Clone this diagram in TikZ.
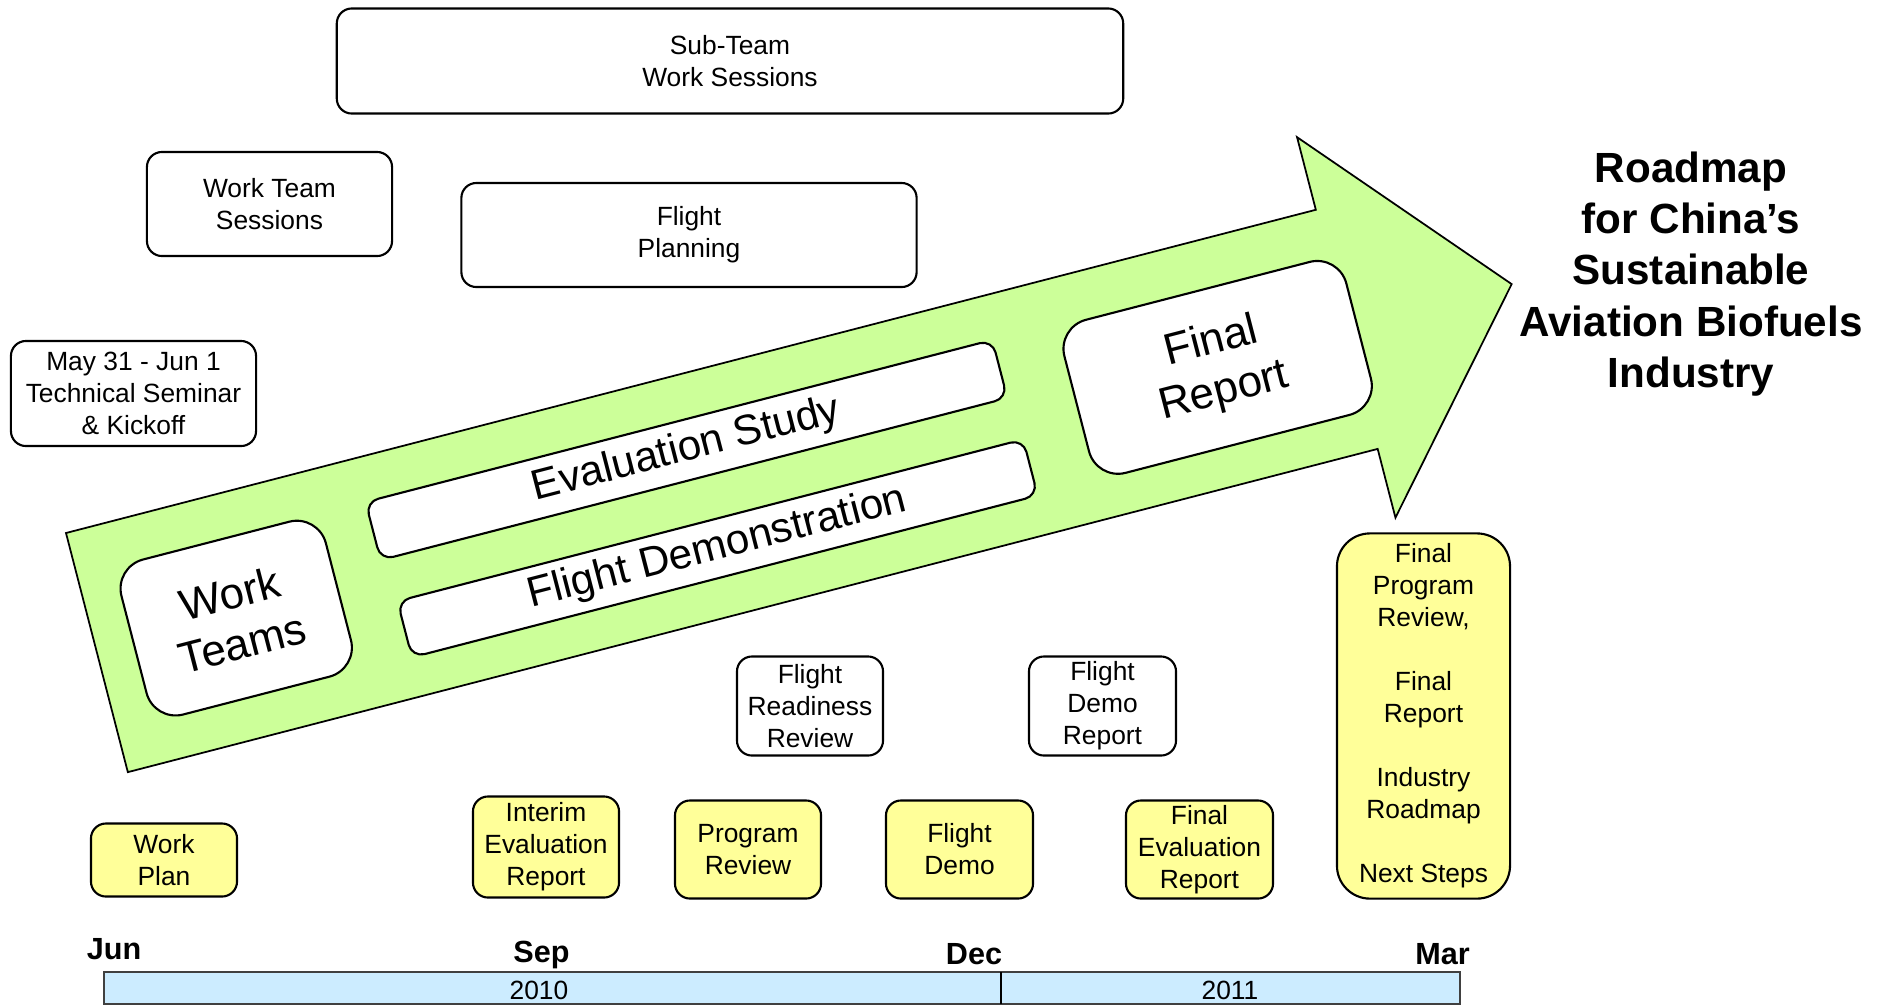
\documentclass[tikz,border=0pt]{standalone}
\usepackage{fontspec}
\setmainfont{Liberation Sans}
\definecolor{leafgreen}{HTML}{CCFF99}
\definecolor{paleyellow}{HTML}{FFFF99}
\definecolor{skyblue}{HTML}{CCECFF}
\tikzset{
  plainbox/.style={draw, fill=white, rounded corners=0.15cm, line width=0.6pt, align=center, inner sep=0pt, font=\fontsize{7.5}{9.1}\selectfont},
  yellowbox/.style={plainbox, fill=paleyellow},
  arrowbox/.style={draw, fill=white, line width=0.6pt, align=center, inner sep=0pt, transform shape, font=\fontsize{12.5}{14.5}\selectfont},
  monthlabel/.style={anchor=base, font=\bfseries\fontsize{8.7}{10}\selectfont},
  yearlabel/.style={font=\fontsize{7.5}{9}\selectfont}
}
\begin{document}
\begin{tikzpicture}[x=0.01cm,y=-0.01cm]
\useasboundingbox (0,0) rectangle (1887,1005);
% sessions above the arrow
\node[plainbox, minimum width=7.86cm, minimum height=1.05cm] (subteam) at (730,61) {Sub-Team\\Work Sessions};
\node[plainbox, minimum width=2.45cm, minimum height=1.04cm] (teamsessions) at (269.5,204) {Work Team\\Sessions};
\node[plainbox, minimum width=4.55cm, minimum height=1.04cm] (flightplan) at (689,235) {Flight\\Planning};
\node[plainbox, minimum width=2.45cm, minimum height=1.05cm] (kickoff) at (133.5,393.5) {May 31 - Jun 1\\Technical Seminar\\\& Kickoff};
% the big arrow
\begin{scope}[shift={(66,533)},rotate=14.5]
\draw[fill=leafgreen, line width=0.5pt, line join=miter] (0,0) -- (1291,0) -- (1291,-75) -- (1462,121) -- (1291,318) -- (1291,247) -- (0,247) -- cycle;
\node[arrowbox, rounded corners=0.3cm, minimum width=2.11cm, minimum height=1.6cm] (workteams) at (143.5,125) {Work\\Teams};
\node[arrowbox, rounded corners=0.13cm, minimum width=6.47cm, minimum height=0.6cm, font=\fontsize{12}{14}\selectfont] (evalstudy) at (621.5,75) {Evaluation Study};
\node[arrowbox, rounded corners=0.13cm, minimum width=6.46cm, minimum height=0.58cm, font=\fontsize{12}{14}\selectfont] (flightdemonstr) at (627,178) {Flight Demonstration};
\node[arrowbox, rounded corners=0.3cm, minimum width=2.91cm, minimum height=1.58cm] (finalreport) at (1156.5,128) {Final\\Report};
\end{scope}
\node[align=center, font=\bfseries\fontsize{12}{14.6}\selectfont] (title) at (1691,274) {Roadmap\\for China’s\\Sustainable\\Aviation Biofuels\\Industry};
% reviews and reports
\node[plainbox, minimum width=1.46cm, minimum height=0.99cm] (readiness) at (810,706) {Flight\\Readiness\\Review};
\node[plainbox, minimum width=1.47cm, minimum height=0.99cm] (demoreport) at (1102.5,706) {Flight\\Demo\\Report};
\node[yellowbox, minimum width=1.46cm, minimum height=0.73cm] (workplan) at (164,860) {Work\\Plan};
\node[yellowbox, minimum width=1.46cm, minimum height=1.01cm] (interim) at (546,847) {Interim\\Evaluation\\Report};
\node[yellowbox, minimum width=1.46cm, minimum height=0.98cm] (progreview) at (748,849.5) {Program\\Review};
\node[yellowbox, minimum width=1.47cm, minimum height=0.98cm] (flightdemo) at (959.5,849.5) {Flight\\Demo};
\node[yellowbox, minimum width=1.47cm, minimum height=0.98cm] (finaleval) at (1199.5,849.5) {Final\\Evaluation\\Report};
\node[yellowbox, rounded corners=0.33cm, minimum width=1.73cm, minimum height=3.65cm] (finalprog) at (1423.5,716) {Final\\Program\\Review,\\[9.1pt]Final\\Report\\[9.1pt]Industry\\Roadmap\\[9.1pt]Next Steps};
% timeline
\node[monthlabel] (jun) at (114,959) {Jun};
\node[monthlabel] (sep) at (541.5,962) {Sep};
\node[monthlabel] (dec) at (974,964) {Dec};
\node[monthlabel] (mar) at (1442.5,964) {Mar};
\draw[fill=skyblue, draw=black!75, line width=0.6pt] (104,972) rectangle (1460,1004);
\draw[line width=0.6pt] (1001,972) -- (1001,1004);
\node[yearlabel] (yr2010) at (539,990) {2010};
\node[yearlabel] (yr2011) at (1230,990) {2011};
\end{tikzpicture}
\end{document}
